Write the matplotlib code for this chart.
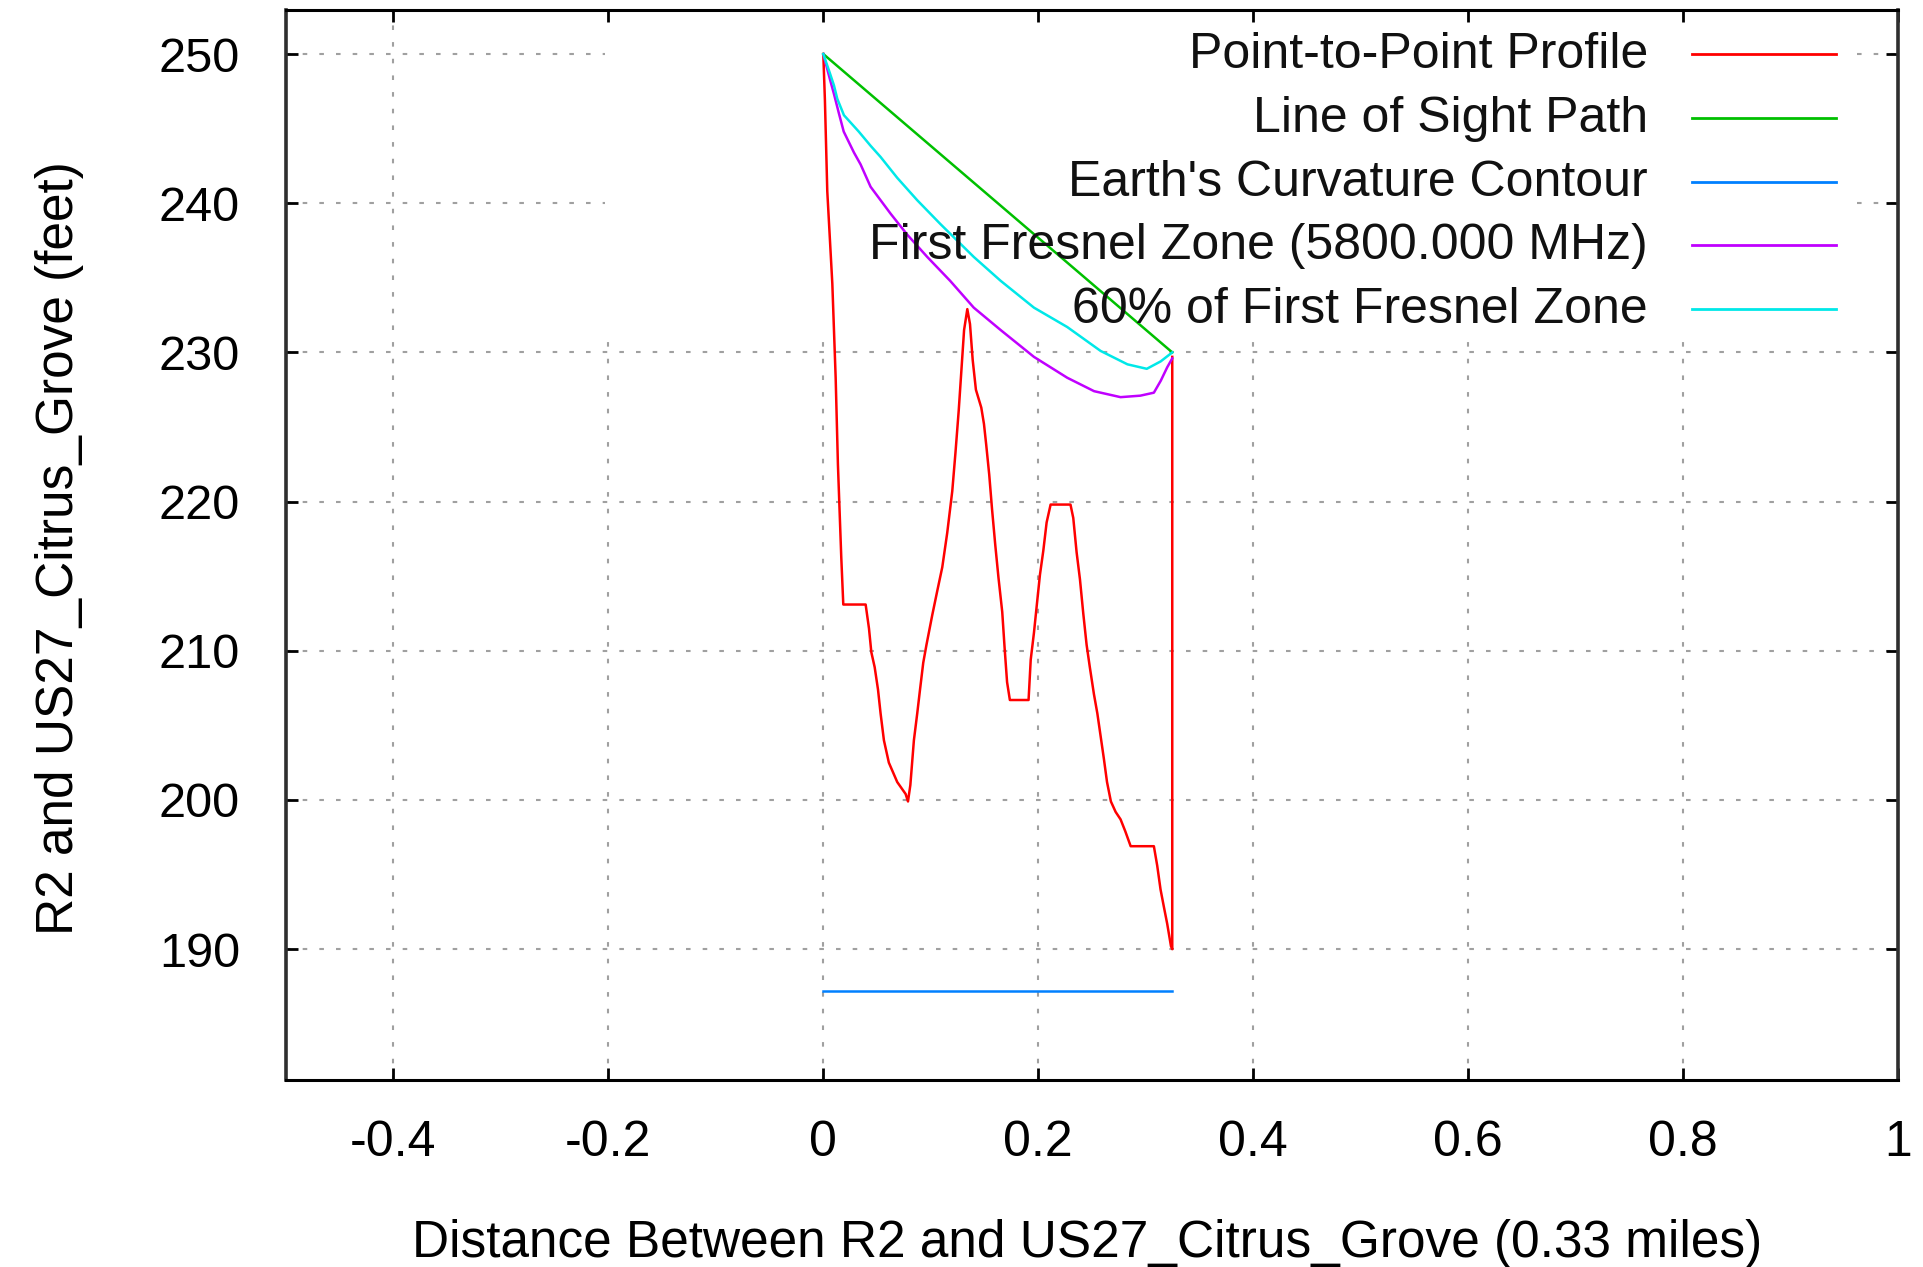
import matplotlib
matplotlib.use('Agg')
import matplotlib.pyplot as plt

plt.rcParams['font.family'] = ['Liberation Sans', 'DejaVu Sans']

# distance along the path (miles) and heights (feet)
profile_x = [0.0, 0.0015, 0.0037, 0.0084, 0.0115, 0.0136, 0.0167, 0.0186, 0.0394, 0.0425,
             0.0447, 0.0478, 0.0509, 0.0533, 0.0564, 0.0610, 0.0688, 0.0766, 0.0788, 0.0810,
             0.0843, 0.0874, 0.0900, 0.0930, 0.0960, 0.1014, 0.1060, 0.1107, 0.1153, 0.1200,
             0.1230, 0.1260, 0.1285, 0.1310, 0.1340, 0.1365, 0.1390, 0.1420, 0.1470, 0.1495,
             0.1516, 0.1544, 0.1570, 0.1600, 0.1630, 0.1665, 0.1687, 0.1710, 0.1736, 0.1910,
             0.1930, 0.1960, 0.1990, 0.2016, 0.2047, 0.2078, 0.2115, 0.2300, 0.2326, 0.2357,
             0.2388, 0.2419, 0.2450, 0.2480, 0.2518, 0.2550, 0.2580, 0.2610, 0.2640, 0.2676,
             0.2720, 0.2766, 0.2810, 0.2860, 0.3076, 0.3107, 0.3138, 0.3170, 0.3200, 0.3235,
             0.3247, 0.3247]
profile_y = [250.0, 246.9, 240.8, 234.6, 228.3, 222.5, 216.3, 213.1, 213.1, 211.5,
             209.9, 208.9, 207.4, 205.8, 204.0, 202.5, 201.2, 200.4, 199.9, 201.0,
             204.0, 205.8, 207.4, 209.2, 210.4, 212.4, 214.0, 215.6, 217.9, 220.7,
             223.3, 226.1, 228.8, 231.5, 232.9, 231.9, 229.5, 227.5, 226.3, 225.2,
             223.8, 221.8, 219.5, 217.1, 214.9, 212.6, 210.2, 207.9, 206.7, 206.7,
             209.4, 211.2, 213.3, 215.1, 216.7, 218.6, 219.8, 219.8, 218.9, 216.6,
             214.8, 212.5, 210.4, 208.9, 207.1, 205.8, 204.3, 202.8, 201.2, 199.9,
             199.2, 198.7, 197.9, 196.9, 196.9, 195.6, 194.0, 192.8, 191.7, 190.2,
             190.0, 229.7]

los_x = [0.0, 0.3247]
los_y = [250.0, 230.0]

earth_x = [0.0, 0.3247]
earth_y = [187.2, 187.2]

fresnel_x = [0.0, 0.0062, 0.0100, 0.0146, 0.0190, 0.0285, 0.0347, 0.0440, 0.0533, 0.0626,
             0.0780, 0.0967, 0.1180, 0.1400, 0.1650, 0.1960, 0.2270, 0.2520, 0.2766, 0.2950,
             0.3076, 0.3140, 0.3200, 0.3247]
fresnel_y = [250.0, 248.3, 247.3, 246.0, 244.8, 243.4, 242.6, 241.1, 240.2, 239.3,
             237.9, 236.4, 234.8, 233.0, 231.5, 229.7, 228.3, 227.4, 227.0, 227.1,
             227.3, 228.1, 229.0, 229.6]

fresnel60_x = [0.0, 0.0062, 0.0099, 0.0130, 0.0192, 0.0330, 0.0440, 0.0533, 0.0688, 0.0874,
               0.1090, 0.1400, 0.1650, 0.1960, 0.2270, 0.2580, 0.2830, 0.3010, 0.3140, 0.3247]
fresnel60_y = [250.0, 248.7, 247.9, 247.0, 245.9, 244.8, 243.85, 243.1, 241.7, 240.2,
               238.6, 236.4, 234.8, 233.0, 231.7, 230.1, 229.2, 228.9, 229.4, 230.0]

labels = ['Point-to-Point Profile', 'Line of Sight Path', "Earth's Curvature Contour",
          'First Fresnel Zone (5800.000 MHz)', '60% of First Fresnel Zone']
colors = ['#ff0000', '#00c000', '#0080ff', '#c000ff', '#00e8e8']

xticks = [-0.4, -0.2, 0.0, 0.2, 0.4, 0.6, 0.8, 1.0]
xticklabels = ['-0.4', '-0.2', '0', '0.2', '0.4', '0.6', '0.8', '1']
yticks = [190, 200, 210, 220, 230, 240, 250]

fig = plt.figure(figsize=(19.23, 12.67), dpi=100)
ax = fig.add_axes([0.1487, 0.1476, 0.8383, 0.8445])
ax.set_xlim(-0.5, 1.0)
ax.set_ylim(181.23, 252.95)

# grid, with the key area left blank
key_x0, key_x1, key_y0 = -0.203, 0.962, 230.85
grid_kw = dict(color='#a0a0a0', lw=1.5, linestyle=(0, (2.2, 5.8)), zorder=1)
for y in yticks:
    if y > key_y0:
        ax.hlines(y, -0.5, key_x0, **grid_kw)
        ax.hlines(y, key_x1, 1.0, **grid_kw)
    else:
        ax.hlines(y, -0.5, 1.0, **grid_kw)
for x in xticks[:-1]:
    if key_x0 <= x <= key_x1:
        ax.vlines(x, 181.23, key_y0, **grid_kw)
    else:
        ax.vlines(x, 181.23, 252.95, **grid_kw)

series = [(profile_x, profile_y), (los_x, los_y), (earth_x, earth_y),
          (fresnel_x, fresnel_y), (fresnel60_x, fresnel60_y)]
for (xs, ys), c in zip(series, colors):
    ax.plot(xs, ys, color=c, lw=1.8, zorder=3)

# key: right-aligned text with the sample line on its right
for i, (lab, c) in enumerate(zip(labels, colors)):
    row = 54 + i * 63.8
    fig.text(1648 / 1923, 1 - (row + 14) / 1267, lab, ha='right', va='baseline',
             fontsize=36, color='#111111', zorder=4)
    fig.add_artist(plt.Line2D([1692 / 1923, 1836 / 1923], [1 - row / 1267] * 2,
                              color=c, lw=2, transform=fig.transFigure))

ax.set_xticks(xticks)
ax.set_xticklabels(xticklabels)
ax.set_yticks(yticks)
ax.tick_params(direction='in', length=8.8, width=2, top=True, right=True, color='black')
ax.tick_params(axis='x', labelsize=36, pad=29)
ax.tick_params(axis='y', labelsize=35, pad=33)

for side in ['left', 'right']:
    ax.spines[side].set_linewidth(2.6)
    ax.spines[side].set_color('#2e2e2e')
for side in ['top', 'bottom']:
    ax.spines[side].set_linewidth(2.2)
    ax.spines[side].set_color('black')

ax.set_xlabel('Distance Between R2 and US27_Citrus_Grove (0.33 miles)', fontsize=37)
ax.xaxis.set_label_coords(0.497, -0.1654)
ax.xaxis.label.set_va('baseline')
ax.set_ylabel('R2 and US27_Citrus_Grove (feet)', fontsize=37)
ax.yaxis.set_label_coords(-0.1402, 0.497)
ax.yaxis.label.set_va('center')

fig.savefig('out.png', dpi=100)
